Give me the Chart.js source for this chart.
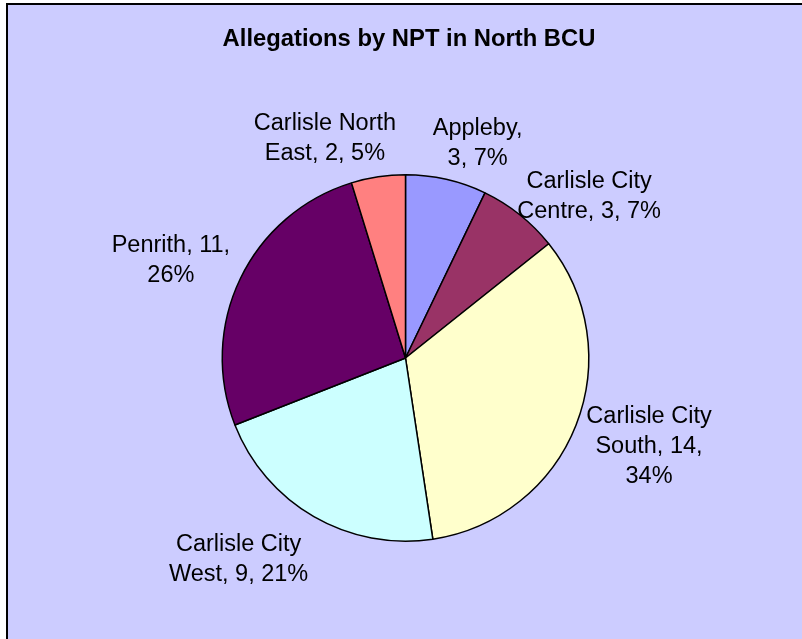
<!DOCTYPE html>
<html>
<head>
<meta charset="utf-8">
<script src="https://cdn.jsdelivr.net/npm/chart.js@4/dist/chart.umd.min.js"></script>
<style>
html,body{margin:0;padding:0;background:#fff}
canvas{display:block}
</style>
</head>
<body>
<canvas id="chart" width="802" height="639"></canvas>
<script>
// data, clockwise from 12 o'clock
const teams=["Appleby","Carlisle City Centre","Carlisle City South","Carlisle City West","Penrith","Carlisle North East"];
const allegations=[3,3,14,9,11,2];
const percents=[7,7,34,21,26,5];
const sliceColors=["#9999FF","#993366","#FFFFCC","#CCFFFF","#660066","#FF8080"];
const titleText="Allegations by NPT in North BCU";

// label layout: radius factor, angle tweak (deg), wrap width
const labelDist=[1.243,1.343,1.41,1.42,1.391,1.287];
const labelTurn=[5.6,9.7,-1.9,9.9,-2.7,-11.4];
const labelWrap=[100,145,130,145,130,150];

const FONT='"Liberation Sans", Arial, sans-serif';

function wrap(c,text,maxW){
let words=text.split(" "),lines=[],cur="";
words.forEach(w=>{
let t=cur?cur+" "+w:w;
if(cur && c.measureText(t).width>maxW){lines.push(cur);cur=w;}
else cur=t;
});
if(cur) lines.push(cur);
return lines;
}

const frame={
id:"frame",
beforeDraw(ch){
const c=ch.ctx;
c.save();
c.fillStyle="#fff";
c.fillRect(0,0,ch.width,ch.height);
c.fillStyle="#CCCCFF";
c.fillRect(7,4,ch.width,ch.height);
c.strokeStyle="#000";
c.lineWidth=2;
c.strokeRect(7,4,ch.width+20,ch.height+20);
c.fillStyle="#000";
c.font="bold 23.8px "+FONT;
c.textAlign="center";
c.textBaseline="alphabetic";
c.fillText(titleText,409,46);
c.restore();
},
afterDatasetsDraw(ch){
const c=ch.ctx;
const arcs=ch.getDatasetMeta(0).data;
c.save();
c.fillStyle="#000";
c.font="23.5px "+FONT;
c.textAlign="center";
c.textBaseline="alphabetic";
arcs.forEach((a,i)=>{
const mid=(a.startAngle+a.endAngle)/2+labelTurn[i]*Math.PI/180;
const r=a.outerRadius*labelDist[i];
const cx=a.x+Math.cos(mid)*r;
const cy=a.y+Math.sin(mid)*r;
const lines=wrap(c,`${teams[i]}, ${allegations[i]}, ${percents[i]}%`,labelWrap[i]);
const lh=30;
const y0=cy-(lines.length-1)*lh/2+8.5;
lines.forEach((l,j)=>c.fillText(l,cx,y0+j*lh));
});
c.restore();
}
};

new Chart(document.getElementById("chart"),{
type:"pie",
data:{labels:teams,datasets:[{data:allegations,backgroundColor:sliceColors,borderColor:"#000",borderWidth:1.5}]},
options:{
responsive:false,
animation:false,
devicePixelRatio:1,
layout:{padding:{top:174,bottom:97,left:221.5,right:212.5}},
plugins:{legend:{display:false},tooltip:{enabled:false},title:{display:false}}
},
plugins:[frame]
});
</script>
</body>
</html>
